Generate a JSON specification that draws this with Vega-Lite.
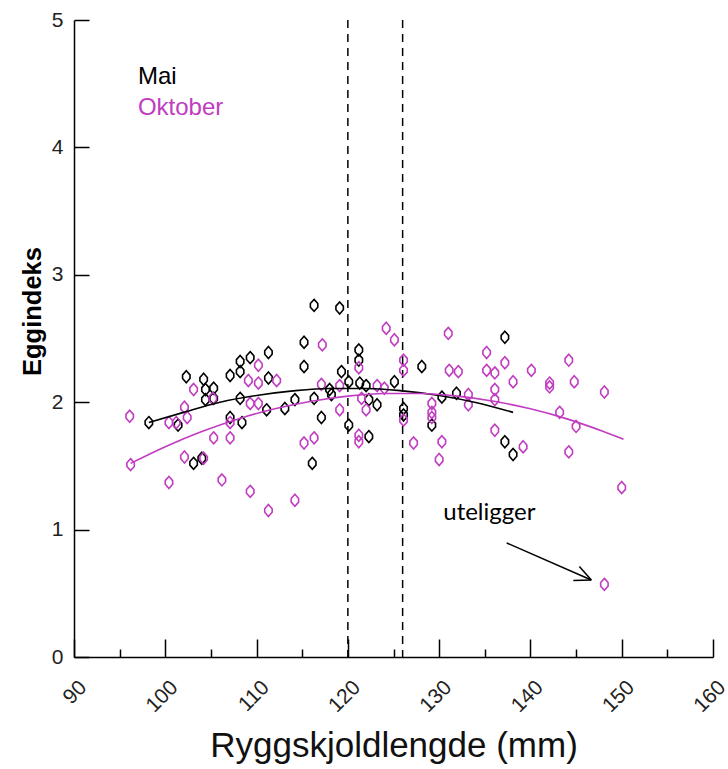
{
  "$schema": "https://vega.github.io/schema/vega-lite/v6.json",
  "width": 639,
  "height": 637,
  "autosize": {"type": "none"},
  "padding": {"left": 74, "top": 20, "right": 15, "bottom": 112},
  "background": "white",
  "config": {
    "view": {"stroke": null},
    "axis": {
      "grid": false,
      "domainColor": "#000000",
      "tickColor": "#000000",
      "labelColor": "#222222",
      "labelFont": "Liberation Sans",
      "labelFontSize": 21,
      "domainWidth": 1.5,
      "tickWidth": 1.5
    }
  },
  "datasets": {
    "pts": [
      {"s":"Mai","x":98.2,"y":1.84},{"s":"Mai","x":101.4,"y":1.82},{"s":"Mai","x":102.3,"y":2.2},{"s":"Mai","x":103.1,"y":1.52},
      {"s":"Mai","x":104.0,"y":1.56},{"s":"Mai","x":104.2,"y":2.18},{"s":"Mai","x":104.4,"y":2.1},{"s":"Mai","x":104.4,"y":2.02},
      {"s":"Mai","x":105.3,"y":2.11},{"s":"Mai","x":105.3,"y":2.03},{"s":"Mai","x":107.1,"y":2.21},{"s":"Mai","x":107.1,"y":1.88},
      {"s":"Mai","x":108.2,"y":2.24},{"s":"Mai","x":108.2,"y":2.32},{"s":"Mai","x":109.3,"y":2.35},{"s":"Mai","x":108.2,"y":2.03},
      {"s":"Mai","x":108.4,"y":1.84},{"s":"Mai","x":111.3,"y":2.39},{"s":"Mai","x":111.3,"y":2.19},{"s":"Mai","x":111.1,"y":1.94},
      {"s":"Mai","x":113.1,"y":1.95},{"s":"Mai","x":114.2,"y":2.02},{"s":"Mai","x":115.2,"y":2.47},{"s":"Mai","x":115.2,"y":2.28},
      {"s":"Mai","x":116.3,"y":2.76},{"s":"Mai","x":116.3,"y":2.03},{"s":"Mai","x":116.1,"y":1.52},{"s":"Mai","x":117.1,"y":1.88},
      {"s":"Mai","x":118.0,"y":2.1},{"s":"Mai","x":118.2,"y":2.06},{"s":"Mai","x":119.1,"y":2.74},{"s":"Mai","x":119.3,"y":2.24},
      {"s":"Mai","x":120.1,"y":2.16},{"s":"Mai","x":120.1,"y":1.82},{"s":"Mai","x":121.2,"y":2.41},{"s":"Mai","x":121.2,"y":2.33},
      {"s":"Mai","x":121.3,"y":2.15},{"s":"Mai","x":122.0,"y":2.13},{"s":"Mai","x":122.3,"y":2.02},{"s":"Mai","x":123.2,"y":1.98},
      {"s":"Mai","x":122.3,"y":1.73},{"s":"Mai","x":125.1,"y":2.16},{"s":"Mai","x":126.1,"y":1.95},{"s":"Mai","x":126.1,"y":1.9},
      {"s":"Mai","x":128.1,"y":2.28},{"s":"Mai","x":129.2,"y":1.82},{"s":"Mai","x":130.3,"y":2.04},{"s":"Mai","x":131.9,"y":2.07},
      {"s":"Mai","x":137.2,"y":2.51},{"s":"Mai","x":137.2,"y":1.69},{"s":"Mai","x":138.1,"y":1.59},
      {"s":"Oktober","x":96.1,"y":1.89},{"s":"Oktober","x":96.2,"y":1.51},{"s":"Oktober","x":100.4,"y":1.84},{"s":"Oktober","x":101.2,"y":1.84},
      {"s":"Oktober","x":100.4,"y":1.37},{"s":"Oktober","x":102.1,"y":1.96},{"s":"Oktober","x":102.4,"y":1.88},{"s":"Oktober","x":102.1,"y":1.57},
      {"s":"Oktober","x":103.1,"y":2.1},{"s":"Oktober","x":104.2,"y":1.56},{"s":"Oktober","x":105.2,"y":2.03},{"s":"Oktober","x":105.3,"y":1.72},
      {"s":"Oktober","x":106.2,"y":1.39},{"s":"Oktober","x":107.1,"y":1.72},{"s":"Oktober","x":107.1,"y":1.84},{"s":"Oktober","x":109.1,"y":2.17},
      {"s":"Oktober","x":110.2,"y":2.15},{"s":"Oktober","x":110.2,"y":2.29},{"s":"Oktober","x":109.3,"y":1.99},{"s":"Oktober","x":110.2,"y":1.99},
      {"s":"Oktober","x":109.3,"y":1.3},{"s":"Oktober","x":111.3,"y":1.15},{"s":"Oktober","x":112.2,"y":2.17},{"s":"Oktober","x":114.2,"y":1.23},
      {"s":"Oktober","x":115.2,"y":1.68},{"s":"Oktober","x":116.3,"y":1.72},{"s":"Oktober","x":117.2,"y":2.45},{"s":"Oktober","x":117.1,"y":2.14},
      {"s":"Oktober","x":119.1,"y":2.13},{"s":"Oktober","x":119.1,"y":1.94},{"s":"Oktober","x":121.2,"y":2.27},{"s":"Oktober","x":121.5,"y":2.03},
      {"s":"Oktober","x":122.0,"y":1.94},{"s":"Oktober","x":121.2,"y":1.74},{"s":"Oktober","x":121.2,"y":1.69},{"s":"Oktober","x":123.2,"y":2.13},
      {"s":"Oktober","x":124.0,"y":2.11},{"s":"Oktober","x":124.2,"y":2.58},{"s":"Oktober","x":125.1,"y":2.49},{"s":"Oktober","x":126.1,"y":2.33},
      {"s":"Oktober","x":126.1,"y":2.25},{"s":"Oktober","x":126.1,"y":1.86},{"s":"Oktober","x":127.2,"y":1.68},{"s":"Oktober","x":129.2,"y":1.99},
      {"s":"Oktober","x":129.2,"y":1.92},{"s":"Oktober","x":129.2,"y":1.88},{"s":"Oktober","x":130.3,"y":1.69},{"s":"Oktober","x":130.0,"y":1.55},
      {"s":"Oktober","x":131.0,"y":2.54},{"s":"Oktober","x":131.1,"y":2.25},{"s":"Oktober","x":132.1,"y":2.24},{"s":"Oktober","x":133.2,"y":2.06},
      {"s":"Oktober","x":133.2,"y":1.98},{"s":"Oktober","x":135.2,"y":2.39},{"s":"Oktober","x":135.2,"y":2.25},{"s":"Oktober","x":136.1,"y":2.23},
      {"s":"Oktober","x":137.2,"y":2.31},{"s":"Oktober","x":136.1,"y":2.1},{"s":"Oktober","x":136.1,"y":2.02},{"s":"Oktober","x":136.1,"y":1.78},
      {"s":"Oktober","x":138.1,"y":2.16},{"s":"Oktober","x":139.2,"y":1.65},{"s":"Oktober","x":140.1,"y":2.25},{"s":"Oktober","x":142.1,"y":2.15},
      {"s":"Oktober","x":142.1,"y":2.12},{"s":"Oktober","x":143.2,"y":1.92},{"s":"Oktober","x":144.2,"y":2.33},{"s":"Oktober","x":144.8,"y":2.16},
      {"s":"Oktober","x":144.2,"y":1.61},{"s":"Oktober","x":145.0,"y":1.81},{"s":"Oktober","x":148.1,"y":2.08},{"s":"Oktober","x":150.0,"y":1.33},
      {"s":"Oktober","x":148.1,"y":0.57}
    ],
    "fit": [
      {"s":"Mai","x":98.2,"y":1.84},{"s":"Mai","x":102,"y":1.92},{"s":"Mai","x":106,"y":2.0},{"s":"Mai","x":110,"y":2.053},
      {"s":"Mai","x":114,"y":2.089},{"s":"Mai","x":118,"y":2.108},{"s":"Mai","x":122,"y":2.108},{"s":"Mai","x":126,"y":2.089},
      {"s":"Mai","x":130,"y":2.053},{"s":"Mai","x":134,"y":1.998},{"s":"Mai","x":138.1,"y":1.92},
      {"s":"Oktober","x":96.2,"y":1.52},{"s":"Oktober","x":100,"y":1.651},{"s":"Oktober","x":104,"y":1.77},{"s":"Oktober","x":108,"y":1.869},
      {"s":"Oktober","x":112,"y":1.948},{"s":"Oktober","x":116,"y":2.008},{"s":"Oktober","x":120,"y":2.048},{"s":"Oktober","x":124,"y":2.068},
      {"s":"Oktober","x":128,"y":2.068},{"s":"Oktober","x":132,"y":2.048},{"s":"Oktober","x":136,"y":2.008},{"s":"Oktober","x":140,"y":1.948},
      {"s":"Oktober","x":144,"y":1.869},{"s":"Oktober","x":148,"y":1.77},{"s":"Oktober","x":150.2,"y":1.71}
    ],
    "refs": [{"x":120},{"x":126}],
    "legend": [
      {"s":"Mai","label":"Mai","x":97.0,"y":4.55},
      {"s":"Oktober","label":"Oktober","x":97.0,"y":4.31}
    ],
    "arrow": [
      {"x":137.4,"y":0.895,"x2":146.67,"y2":0.604},
      {"x":145.36,"y":0.71,"x2":146.67,"y2":0.604},
      {"x":144.7,"y":0.6,"x2":146.67,"y2":0.604}
    ],
    "note": [{"label":"uteligger","x":135.5,"y":1.13}]
  },
  "layer": [
    {
      "data": {"name": "refs"},
      "mark": {"type": "rule", "color": "#000000", "strokeWidth": 1.5, "strokeDash": [8, 6]},
      "encoding": {
        "x": {"field": "x", "type": "quantitative", "scale": {"domain": [90, 160], "nice": false, "zero": false},
          "axis": {"orient": "bottom", "values": [95,105,115,125,135,145,155], "tickSize": -8, "labels": false, "domain": false, "title": null}}
      }
    },
    {
      "data": {"name": "pts"},
      "mark": {"type": "point", "filled": false, "strokeWidth": 1.6, "size": 144, "opacity": 1,
        "shape": "M0,-1L0.62,-0.3L0.62,0.3L0,1L-0.62,0.3L-0.62,-0.3Z"},
      "encoding": {
        "x": {"field": "x", "type": "quantitative", "scale": {"domain": [90, 160], "nice": false, "zero": false},
          "axis": {"orient": "bottom", "values": [90,100,110,120,130,140,150,160], "tickSize": -18, "labelAngle": -45,
            "labelAlign": "right", "labelBaseline": "middle", "labelPadding": 45, "labelOffset": 9, "format": "d",
            "title": "Ryggskjoldlengde (mm)", "titleFont": "Liberation Sans", "titleFontSize": 35, "titleFontWeight": "normal",
            "titleColor": "#111111", "titleY": 88, "titleBaseline": "middle"}},
        "y": {"field": "y", "type": "quantitative", "scale": {"domain": [0, 5], "nice": false},
          "axis": {"values": [0,1,2,3,4,5], "tickSize": -15, "labelPadding": 26, "format": "d",
            "title": "Eggindeks", "titleFont": "Liberation Sans", "titleFontSize": 25.5, "titleFontWeight": "bold",
            "titleColor": "#000000", "titleY": 291, "titleX": -42, "titleBaseline": "middle", "titleAlign": "center"}},
        "color": {"field": "s", "type": "nominal", "scale": {"domain": ["Mai","Oktober"], "range": ["#000000","#c03cc0"]}, "legend": null}
      }
    },
    {
      "data": {"name": "fit"},
      "mark": {"type": "line", "strokeWidth": 1.6, "interpolate": "monotone"},
      "encoding": {
        "x": {"field": "x", "type": "quantitative", "axis": null},
        "y": {"field": "y", "type": "quantitative"},
        "color": {"field": "s", "type": "nominal", "legend": null}
      }
    },
    {
      "data": {"name": "legend"},
      "mark": {"type": "text", "align": "left", "baseline": "middle", "font": "Liberation Sans", "fontSize": 24},
      "encoding": {
        "x": {"field": "x", "type": "quantitative", "axis": null},
        "y": {"field": "y", "type": "quantitative"},
        "text": {"field": "label"},
        "color": {"field": "s", "type": "nominal", "legend": null}
      }
    },
    {
      "data": {"name": "arrow"},
      "mark": {"type": "rule", "color": "#000000", "strokeWidth": 1.5},
      "encoding": {
        "x": {"field": "x", "type": "quantitative", "axis": null},
        "y": {"field": "y", "type": "quantitative"},
        "x2": {"field": "x2"},
        "y2": {"field": "y2"}
      }
    },
    {
      "data": {"name": "note"},
      "mark": {"type": "text", "align": "center", "baseline": "middle", "font": "Lato", "fontSize": 24, "color": "#000000"},
      "encoding": {
        "x": {"field": "x", "type": "quantitative", "axis": null},
        "y": {"field": "y", "type": "quantitative"},
        "text": {"field": "label"}
      }
    }
  ],
  "resolve": {"axis": {"x": "independent"}}
}
